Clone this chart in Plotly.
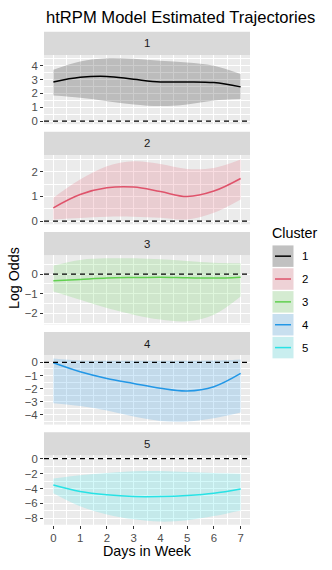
import plotly.graph_objects as go

days = [0, 1, 2, 3, 4, 5, 6, 7]
clusters = ["1", "2", "3", "4", "5"]
colors = ["#000000", "#DF536B", "#61D04F", "#2297E6", "#28E2E5"]

fit = [
    [2.83, 3.16, 3.23, 3.02, 2.83, 2.83, 2.78, 2.47],
    [0.54, 1.08, 1.35, 1.38, 1.20, 1.00, 1.22, 1.73],
    [-0.34, -0.27, -0.20, -0.17, -0.15, -0.18, -0.20, -0.15],
    [-0.03, -0.71, -1.22, -1.60, -1.97, -2.18, -1.85, -0.84],
    [-3.54, -4.41, -4.85, -5.07, -5.07, -4.93, -4.63, -4.06],
]
upper = [
    [3.71, 4.31, 4.55, 4.50, 4.36, 4.24, 4.00, 3.40],
    [0.95, 1.69, 2.23, 2.43, 2.32, 2.12, 2.16, 2.50],
    [0.44, 0.73, 0.81, 0.81, 0.76, 0.68, 0.59, 0.56],
    [0.30, 0.15, 0.13, 0.13, 0.13, 0.13, 0.15, 0.23],
    [-2.66, -2.23, -1.92, -1.70, -1.66, -1.79, -1.92, -2.01],
]
lower = [
    [1.84, 1.68, 1.44, 1.20, 1.08, 1.20, 1.49, 1.60],
    [0.07, 0.13, 0.18, 0.18, 0.14, 0.07, 0.34, 0.88],
    [-0.88, -1.30, -1.73, -2.07, -2.32, -2.41, -2.07, -1.14],
    [-3.11, -3.32, -3.67, -4.13, -4.46, -4.50, -4.25, -3.82],
    [-4.63, -6.38, -7.47, -8.12, -8.43, -8.25, -7.69, -6.94],
]
y_ranges = [[-0.23, 4.78], [-0.13, 2.68], [-2.57, 0.97], [-4.74, 0.54], [-8.85, 0.42]]
y_ticks = [[0, 1, 2, 3, 4], [0, 1, 2], [-2, -1, 0], [-4, -3, -2, -1, 0], [-8, -6, -4, -2, 0]]
x_ticks = [0, 1, 2, 3, 4, 5, 6, 7]

W, H = 332, 570
FONT = "Liberation Sans, Arial, sans-serif"
TICK_SIZE = 11.4
AXIS_TITLE_SIZE = 14.3
TITLE_SIZE = 16.6


def hex_rgba(h, a):
    h = h.lstrip("#")
    return "rgba(%d,%d,%d,%.2f)" % (int(h[0:2], 16), int(h[2:4], 16), int(h[4:6], 16), a)


def px(x):
    return x / W


def py(y):
    return 1 - y / H


fig = go.Figure()
shapes = []
annotations = []

x_left, x_right = 44, 250
facet_top0 = 29.0
facet_step = 101.2
strip_h = 23.5
plot_h = 70.0

layout_axes = {}
for i in range(5):
    n = i + 1
    xa = "x" if n == 1 else "x%d" % n
    ya = "y" if n == 1 else "y%d" % n
    top = facet_top0 + i * facet_step
    strip_bot = top + strip_h
    bot = strip_bot + plot_h

    fig.add_trace(go.Scatter(x=days, y=lower[i], mode="lines", line=dict(width=0, shape="spline"),
                             showlegend=False, hoverinfo="skip", xaxis=xa, yaxis=ya))
    fig.add_trace(go.Scatter(x=days, y=upper[i], mode="lines", line=dict(width=0, shape="spline"),
                             fill="tonexty", fillcolor=hex_rgba(colors[i], 0.2),
                             showlegend=False, hoverinfo="skip", xaxis=xa, yaxis=ya))
    fig.add_trace(go.Scatter(x=days, y=fit[i], mode="lines", line=dict(width=1.5, color=colors[i], shape="spline"),
                             name=clusters[i], showlegend=False, xaxis=xa, yaxis=ya))

    last = (n == 5)
    xkey = "xaxis" if n == 1 else "xaxis%d" % n
    ykey = "yaxis" if n == 1 else "yaxis%d" % n
    layout_axes[xkey] = dict(
        domain=[px(x_left), px(x_right)], anchor=ya, range=[-0.35, 7.35],
        tickvals=x_ticks, showticklabels=last, ticks="outside" if last else "",
        ticklen=3, tickcolor="#333333", tickwidth=1,
        tickfont=dict(size=TICK_SIZE, color="#4D4D4D", family=FONT),
        showgrid=True, gridcolor="white", gridwidth=1.1, zeroline=False, showline=False,
        minor=dict(dtick=0.5, tick0=0, showgrid=True, gridcolor="white", gridwidth=0.5),
    )
    minor_d = 1 if n == 5 else 0.5
    layout_axes[ykey] = dict(
        domain=[py(bot), py(strip_bot)], anchor=xa, range=y_ranges[i],
        tickvals=y_ticks[i], ticks="outside", ticklen=3, tickcolor="#333333", tickwidth=1,
        tickfont=dict(size=TICK_SIZE, color="#4D4D4D", family=FONT),
        showgrid=True, gridcolor="white", gridwidth=1.1, zeroline=False, showline=False,
        minor=dict(dtick=minor_d, tick0=0, showgrid=True, gridcolor="white", gridwidth=0.5),
    )
    # strip
    shapes.append(dict(type="rect", xref="paper", yref="paper", x0=px(x_left), x1=px(x_right),
                       y0=py(strip_bot), y1=py(top), fillcolor="#D9D9D9", line=dict(width=0), layer="below"))
    annotations.append(dict(text=clusters[i], xref="paper", yref="paper", x=px((x_left + x_right) / 2),
                            y=py((top + strip_bot) / 2), showarrow=False, xanchor="center", yanchor="middle",
                            font=dict(size=TICK_SIZE, color="#1A1A1A", family=FONT)))
    # zero reference
    shapes.append(dict(type="line", xref="%s domain" % xa, yref=ya, x0=0, x1=1, y0=0, y1=0,
                       line=dict(color="black", width=1.3, dash="5px,4px"), layer="above"))

# legend drawn manually
leg_x0, leg_x1 = 272.5, 293.5
key_top0, key_h, key_gap = 245.0, 21.7, 1.4
annotations.append(dict(text="Cluster", xref="paper", yref="paper", x=px(270), y=py(232),
                        showarrow=False, xanchor="left", yanchor="middle",
                        font=dict(size=AXIS_TITLE_SIZE, color="#000000", family=FONT)))
for i in range(5):
    kt = key_top0 + i * (key_h + key_gap)
    kb = kt + key_h
    shapes.append(dict(type="rect", xref="paper", yref="paper", x0=px(leg_x0), x1=px(leg_x1),
                       y0=py(kb), y1=py(kt), fillcolor="#F2F2F2", line=dict(width=0)))
    shapes.append(dict(type="rect", xref="paper", yref="paper", x0=px(leg_x0), x1=px(leg_x1),
                       y0=py(kb), y1=py(kt), fillcolor=hex_rgba(colors[i], 0.2), line=dict(width=0)))
    ym = (kt + kb) / 2
    shapes.append(dict(type="line", xref="paper", yref="paper", x0=px(leg_x0 + 2.5), x1=px(leg_x1 - 2.5),
                       y0=py(ym), y1=py(ym), line=dict(color=colors[i], width=1.5)))
    annotations.append(dict(text=clusters[i], xref="paper", yref="paper", x=px(300), y=py(ym),
                            showarrow=False, xanchor="left", yanchor="middle",
                            font=dict(size=TICK_SIZE, color="#000000", family=FONT)))

# titles
annotations.append(dict(text="htRPM Model Estimated Trajectories", xref="paper", yref="paper",
                        x=px(44), y=py(15), showarrow=False, xanchor="left", yanchor="middle",
                        font=dict(size=TITLE_SIZE, color="#000000", family=FONT)))
annotations.append(dict(text="Days in Week", xref="paper", yref="paper",
                        x=px((x_left + x_right) / 2), y=py(554), showarrow=False, xanchor="center",
                        yanchor="middle", font=dict(size=AXIS_TITLE_SIZE, color="#000000", family=FONT)))
annotations.append(dict(text="Log Odds", xref="paper", yref="paper", x=px(14), y=py(278),
                        showarrow=False, xanchor="center", yanchor="middle", textangle=-90,
                        font=dict(size=AXIS_TITLE_SIZE, color="#000000", family=FONT)))

fig.update_layout(
    width=W, height=H, margin=dict(l=0, r=0, t=0, b=0),
    paper_bgcolor="white", plot_bgcolor="#EBEBEB",
    showlegend=False, shapes=shapes, annotations=annotations,
    font=dict(family=FONT),
    **layout_axes,
)

fig.write_html("out.html", config={"displayModeBar": False},
               post_script="document.body.style.margin='0px';")
